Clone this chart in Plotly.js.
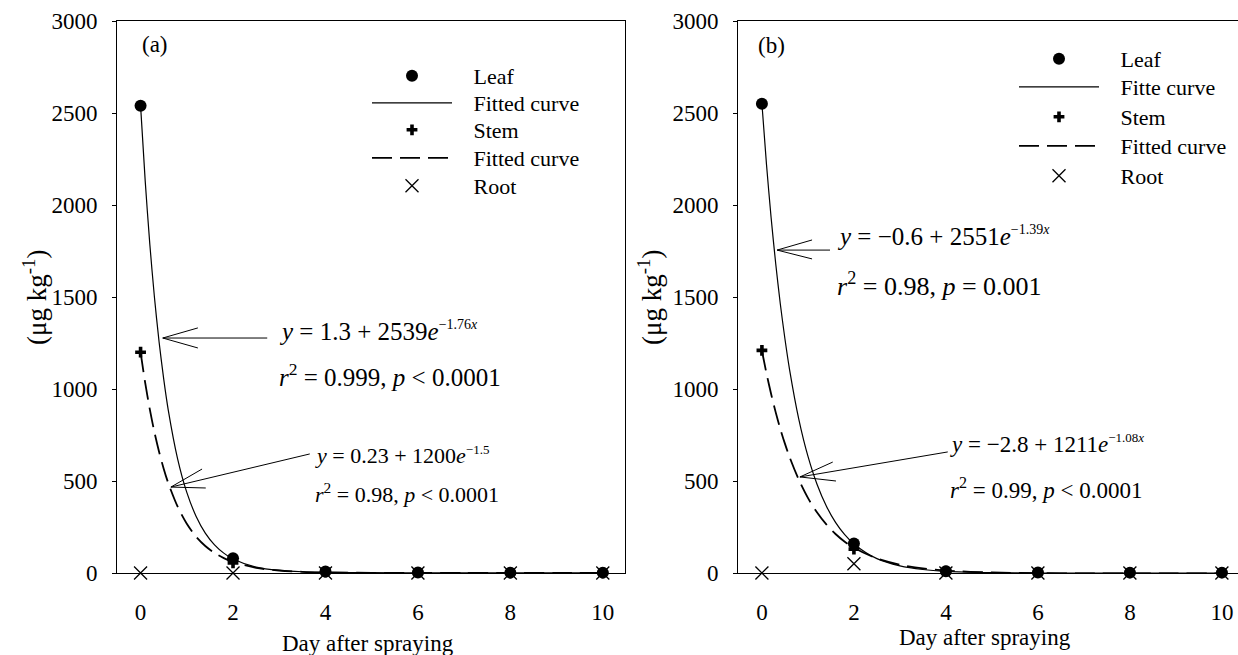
<!DOCTYPE html>
<html>
<head>
<meta charset="utf-8">
<script src="https://cdn.plot.ly/plotly-3.0.1.min.js"></script>
<style>html,body{margin:0;padding:0;background:#fff;}#chart{width:1238px;height:655px;}</style>
</head>
<body>
<div id="chart"></div>
<script>
// ---- data ----
const days = [0, 2, 4, 6, 8, 10];
const leafA = [2540, 80, 8, 3, 2, 2];
const stemA = [1200, 55, 5, 2, 1, 1];
const rootA = [0, 0, 0, 0, 0, 0];
const leafB = [2550, 160, 10, 3, 2, 2];
const stemB = [1210, 130, 10, 3, 2, 2];
const rootB = [0, 50, 0, 0, 0, 0];
const fitX = [0, 0.1, 0.2, 0.3, 0.4, 0.5, 0.6, 0.8, 1.0, 1.2, 1.4, 1.6, 1.8, 2, 2.5, 3, 3.5, 4, 5, 6, 7, 8, 9, 10];
const leafFitA = [2540, 2131, 1787, 1499, 1257, 1055, 884, 622, 438, 309, 217, 153, 108, 76, 32, 14, 6.7, 3.5, 1.7, 1.4, 1.3, 1.3, 1.3, 1.3];
const stemFitA = [1200, 1033, 889, 765, 659, 567, 488, 362, 268, 198, 147, 109, 81, 60, 28, 13.6, 6.5, 3.2, 0.9, 0.4, 0.3, 0.2, 0.2, 0.2];
const leafFitB = [2550, 2219, 1931, 1681, 1462, 1273, 1107, 838, 635, 481, 364, 275, 208, 158, 78, 39, 19, 9, 1.8, 0, -0.5, -0.6, -0.6, -0.6];
const stemFitB = [1208, 1084, 973, 873, 783, 703, 631, 508, 408, 329, 264, 212, 170, 137, 79, 45, 25, 13, 2.7, -0.9, -2.2, -2.6, -2.7, -2.8];
const yTicks = [0, 500, 1000, 1500, 2000, 2500, 3000];
const xTicks = [0, 2, 4, 6, 8, 10];
const namesA = ['Leaf', 'Fitted curve', 'Stem', 'Fitted curve', 'Root'];
const namesB = ['Leaf', 'Fitte curve', 'Stem', 'Fitted curve', 'Root'];

// ---- helpers ----
const W = 1238, H = 655;
const px = v => v / W;
const py = v => 1 - v / H;
const FONT = 'Liberation Serif, Times New Roman, serif';
const NB = '\u00A0\u00A0\u00A0';

function panel(xa, ya, leaf, leafFit, stem, stemFit, root, names, legs) {
  return [
    {x: days, y: leaf, xaxis: xa, yaxis: ya, mode: 'markers', name: NB + names[0], legend: legs[0],
     marker: {symbol: 'circle', size: 12, color: '#000'}, cliponaxis: false},
    {x: fitX, y: leafFit, xaxis: xa, yaxis: ya, mode: 'lines', name: NB + names[1], legend: legs[1],
     line: {color: '#000', width: 1.2, shape: 'spline', smoothing: 0.8}, cliponaxis: false},
    {x: days, y: stem, xaxis: xa, yaxis: ya, mode: 'markers', name: NB + names[2], legend: legs[2],
     marker: {symbol: 'cross', size: 9, color: '#000'}, cliponaxis: false},
    {x: fitX, y: stemFit, xaxis: xa, yaxis: ya, mode: 'lines', name: NB + names[3], legend: legs[3],
     line: {color: '#000', width: 1.8, dash: '20px,8px', shape: 'spline', smoothing: 0.8}, cliponaxis: false},
    {x: days, y: root, xaxis: xa, yaxis: ya, mode: 'markers', name: NB + names[4], legend: legs[4],
     marker: {symbol: 'x-thin-open', size: 13, color: '#000', line: {width: 1.3, color: '#000'}}, cliponaxis: false}
  ];
}

const legIdsA = ['legend', 'legend2', 'legend3', 'legend4', 'legend5'];
const legIdsB = ['legend6', 'legend7', 'legend8', 'legend9', 'legend10'];

const data = [].concat(
  panel('x', 'y', leafA, leafFitA, stemA, stemFitA, rootA, namesA, legIdsA),
  panel('x2', 'y2', leafB, leafFitB, stemB, stemFitB, rootB, namesB, legIdsB)
);

const TF = {family: FONT, size: 23, color: '#000'};
const yAxisBase = {
  range: [0, 3000], tickvals: yTicks, ticks: 'outside', ticklen: 4, tickwidth: 1, tickcolor: '#000',
  showgrid: false, zeroline: false, showline: true, linecolor: '#000', linewidth: 1,
  tickfont: TF, ticklabelstandoff: 10, domain: [py(573), py(21)]
};
const xAxisBase = {
  tickvals: xTicks, ticks: '', showgrid: false, zeroline: false, showline: true,
  linecolor: '#000', linewidth: 1, tickfont: TF, ticklabelstandoff: 18
};

function f(size) { return {family: FONT, size: size, color: '#000'}; }
function txt(x, y, text, size, opts) {
  return Object.assign({xref: 'paper', yref: 'paper', x: px(x), y: py(y), text: text, showarrow: false,
    xanchor: 'left', yanchor: 'middle', font: f(size)}, opts || {});
}
function sup(s, size) { return '<sup><span style="font-size:' + size + 'px">' + s + '</span></sup>'; }

const annotations = [
  txt(155, 44, '(a)', 23, {xanchor: 'center'}),
  txt(771, 45, '(b)', 23, {xanchor: 'center'}),
  txt(277, 331, '<i>y</i> = 1.3 + 2539<i>e</i>' + sup('\u22121.76<i>x</i>', 14), 25),
  txt(277, 375, '<i>r</i><sup>2</sup> = 0.999, <i>p</i> &lt; 0.0001', 25),
  txt(313, 455, '<i>y</i> = 0.23 + 1200<i>e</i>' + sup('\u22121.5', 13), 22),
  txt(313, 493, '<i>r</i><sup>2</sup> = 0.98, <i>p</i> &lt; 0.0001', 22),
  txt(835, 236, '<i>y</i> = \u22120.6 + 2551<i>e</i>' + sup('\u22121.39<i>x</i>', 14), 25),
  txt(835, 284, '<i>r</i><sup>2</sup> = 0.98, <i>p</i> = 0.001', 26),
  txt(948, 444, '<i>y</i> = \u22122.8 + 1211<i>e</i>' + sup('\u22121.08<i>x</i>', 13), 23),
  txt(948, 488, '<i>r</i><sup>2</sup> = 0.99, <i>p</i> &lt; 0.0001', 23),
  txt(368, 643, 'Day after spraying', 23, {xanchor: 'center'}),
  txt(985, 637, 'Day after spraying', 23, {xanchor: 'center'}),
  txt(35, 298, '(\u03bcg kg<sup>-1</sup>)', 27, {xanchor: 'center', textangle: -90}),
  txt(650, 298, '(\u03bcg kg<sup>-1</sup>)', 27, {xanchor: 'center', textangle: -90})
];

// arrows (shaft + open head), in axis units
function arrow(xr, yr, tail, tip, w1, w2) {
  return {type: 'path', xref: xr, yref: yr, line: {color: '#000', width: 1},
    path: 'M' + tail[0] + ',' + tail[1] + ' L' + tip[0] + ',' + tip[1] +
          ' M' + w1[0] + ',' + w1[1] + ' L' + tip[0] + ',' + tip[1] + ' L' + w2[0] + ',' + w2[1]};
}
const shapes = [
  arrow('x', 'y', [2.74, 1277], [0.48, 1277], [1.24, 1332], [1.24, 1223]),
  arrow('x', 'y', [3.66, 647], [0.656, 467], [1.33, 565], [1.41, 462]),
  arrow('x2', 'y2', [1.48, 1755], [0.33, 1755], [1.09, 1810], [1.09, 1707]),
  arrow('x2', 'y2', [4.04, 658], [0.826, 522], [1.54, 603], [1.61, 500])
];

const legBase = {font: f(22), bgcolor: 'rgba(0,0,0,0)', borderwidth: 0,
  itemwidth: 80, tracegroupgap: 0, xanchor: 'left', yanchor: 'top', itemclick: false};

const rowsA = [77, 104, 131, 159, 187];
const rowsB = [60, 88, 118, 147, 177];

const layout = {
  width: W, height: H, margin: {l: 0, r: 0, t: 0, b: 0},
  paper_bgcolor: '#fff', plot_bgcolor: 'rgba(0,0,0,0)', showlegend: true,
  xaxis: Object.assign({}, xAxisBase, {domain: [px(117), px(625)], range: [-0.51, 10.48], mirror: true, anchor: 'y'}),
  yaxis: Object.assign({}, yAxisBase, {mirror: true, anchor: 'x'}),
  xaxis2: Object.assign({}, xAxisBase, {domain: [px(738), 1], range: [-0.52, 10.35], mirror: true, anchor: 'y2'}),
  yaxis2: Object.assign({}, yAxisBase, {anchor: 'x2'}),
  annotations: annotations,
  shapes: shapes
};
legIdsA.forEach((id, i) => { layout[id] = Object.assign({}, legBase, {x: px(367), y: py(rowsA[i] - 22)}); });
legIdsB.forEach((id, i) => { layout[id] = Object.assign({}, legBase, {x: px(1014), y: py(rowsB[i] - 22)}); });

Plotly.newPlot('chart', data, layout, {staticPlot: true});
</script>
</body>
</html>
